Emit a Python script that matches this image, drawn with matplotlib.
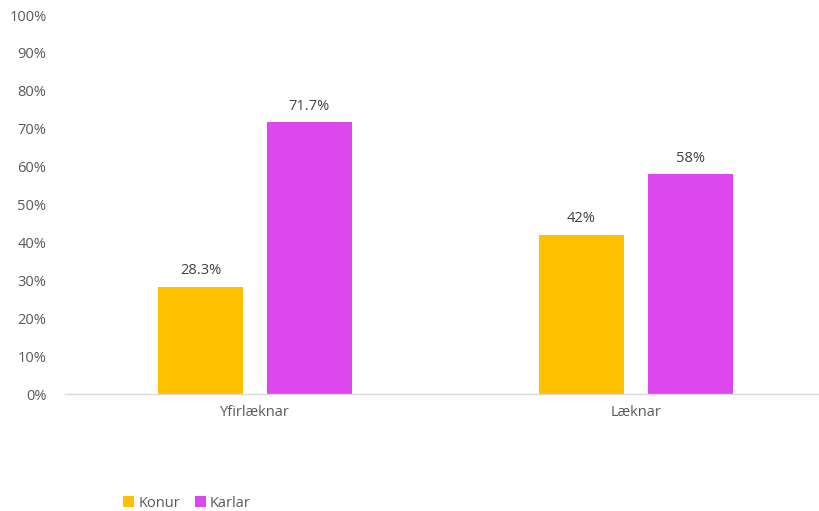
import numpy as np
import matplotlib.pyplot as plt

categories = ["Yfirlæknar", "Læknar"]
series_names = ["Konur", "Karlar"]
konur = [28.3, 42]
karlar = [71.7, 58]
konur_labels = ["28.3%", "42%"]
karlar_labels = ["71.7%", "58%"]
yticks = list(range(0, 101, 10))

plt.rcParams['font.family'] = ['Open Sans', 'DejaVu Sans']

fig = plt.figure(figsize=(8.2, 5.11), dpi=100)
ax = fig.add_axes([64.5 / 820, 117 / 511, 762 / 820, 379 / 511])

x = np.arange(len(categories))
w = 0.224
off = 0.143
b1 = ax.bar(x - off, konur, w, color="#FFC000", label=series_names[0])
b2 = ax.bar(x + off, karlar, w, color="#DD47EE", label=series_names[1])

for bars, labels in [(b1, konur_labels), (b2, karlar_labels)]:
    for rect, lab in zip(bars, labels):
        ax.annotate(lab, (rect.get_x() + rect.get_width() / 2, rect.get_height()),
                    xytext=(0, 6), textcoords="offset points",
                    ha="center", va="bottom", fontsize=10.5, color="#404040")

ax.set_xlim(-0.5, 1.5)
ax.set_ylim(0, 100)
ax.set_yticks(yticks)
ax.set_yticklabels([f"{t}%" for t in yticks])
ax.set_xticks(x)
ax.set_xticklabels(categories)
ax.tick_params(axis="both", length=0, labelsize=10.5, colors="#595959")
ax.tick_params(axis="y", pad=13)
ax.tick_params(axis="x", pad=8)
for s in ["top", "right", "left"]:
    ax.spines[s].set_visible(False)
ax.spines["bottom"].set_color("#D9D9D9")
ax.spines["bottom"].set_linewidth(1)

fig.legend(loc="center left", bbox_to_anchor=(110 / 820, 1 - 503 / 511), ncol=2,
           frameon=False, fontsize=10.5, handlelength=0.75, handleheight=0.75,
           handletextpad=0.3, columnspacing=1.0, labelcolor="#595959")

fig.savefig("out.png", dpi=100)
